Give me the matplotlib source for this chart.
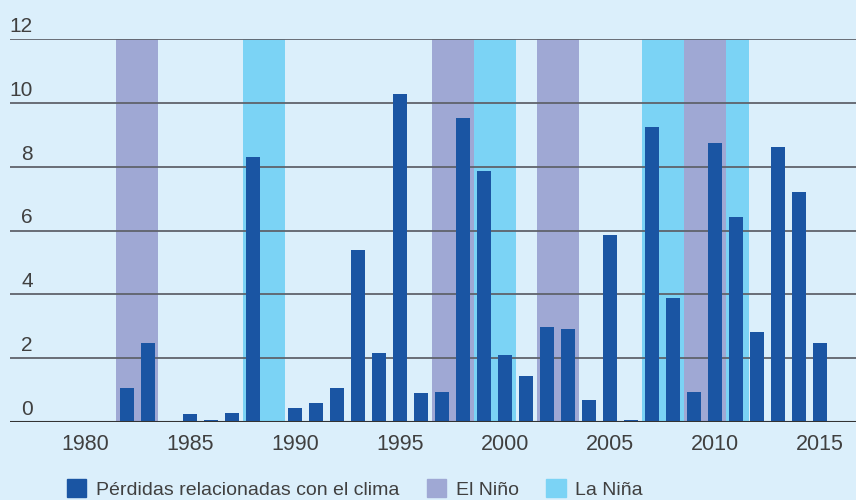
import matplotlib.pyplot as plt
import matplotlib.patches as mpatches
import matplotlib.transforms as mtransforms

years = list(range(1980, 2016))
# losses per year, None = no bar
losses = [None, None, 1.07, 2.48, None, 0.25, 0.06, 0.28, 8.31, None,
          0.44, 0.60, 1.07, 5.39, 2.16, 10.28, 0.91, 0.94, 9.53, 7.87,
          2.10, 1.44, 2.98, 2.92, 0.69, 5.86, 0.06, 9.25, 3.89, 0.94,
          8.75, 6.43, 2.82, 8.62, 7.21, 2.48]

el_nino = [(1981.5, 1983.5), (1996.5, 1998.5), (2001.5, 2003.5), (2008.5, 2010.5)]
la_nina = [(1987.5, 1989.5), (1998.5, 2000.5), (2006.5, 2008.5), (2010.5, 2011.6)]

y_ticks = [0, 2, 4, 6, 8, 10, 12]
x_ticks = [1980, 1985, 1990, 1995, 2000, 2005, 2010, 2015]

bg = "#dbeffb"
bar_color = "#1a55a3"
nino_color = "#9fa8d4"
nina_color = "#7bd3f5"
text_color = "#404040"

plt.rcParams["font.family"] = ["Liberation Sans", "DejaVu Sans"]
plt.rcParams["font.size"] = 14

fig = plt.figure(figsize=(8.56, 5.0), dpi=100, facecolor=bg)
ax = fig.add_axes([10 / 856, 78 / 500, 846 / 856, 383 / 500])
ax.set_facecolor(bg)

for x0, x1 in el_nino:
    ax.axvspan(x0, x1, color=nino_color, lw=0, zorder=1)
for x0, x1 in la_nina:
    ax.axvspan(x0, x1, color=nina_color, lw=0, zorder=1)

for y in y_ticks[1:]:
    ax.axhline(y, color="#5f636b", lw=1.3, zorder=2)
ax.axhline(0, color="#333333", lw=1.5, zorder=4)

xs = [yr for yr, v in zip(years, losses) if v is not None]
vs = [v for v in losses if v is not None]
ax.bar(xs, vs, width=0.667, color=bar_color, zorder=3)

ax.set_xlim(1976.43, 2016.71)
ax.set_ylim(0, 12)
for s in ax.spines.values():
    s.set_visible(False)
ax.set_yticks([])
ax.set_xticks(x_ticks)
ax.set_xticklabels([str(t) for t in x_ticks], color=text_color, fontsize=15.5)
ax.tick_params(axis="x", length=0, pad=9)

trans = mtransforms.blended_transform_factory(ax.transAxes, ax.transData)
for y in y_ticks:
    ax.text(0.027, y + 0.22, str(y), transform=trans, ha="right", va="baseline",
            color=text_color, fontsize=15, clip_on=False)

handles = [
    mpatches.Patch(color=bar_color, label="Pérdidas relacionadas con el clima"),
    mpatches.Patch(color=nino_color, label="El Niño"),
    mpatches.Patch(color=nina_color, label="La Niña"),
]
leg = fig.legend(handles=handles, loc="center left", bbox_to_anchor=(67 / 856, 11 / 500),
                 ncol=3, frameon=False, handlelength=1.0, handleheight=1.0,
                 handletextpad=0.5, columnspacing=1.4, borderpad=0, borderaxespad=0,
                 fontsize=14)
for t in leg.get_texts():
    t.set_color(text_color)

fig.savefig("out.png", dpi=100, facecolor=bg)
